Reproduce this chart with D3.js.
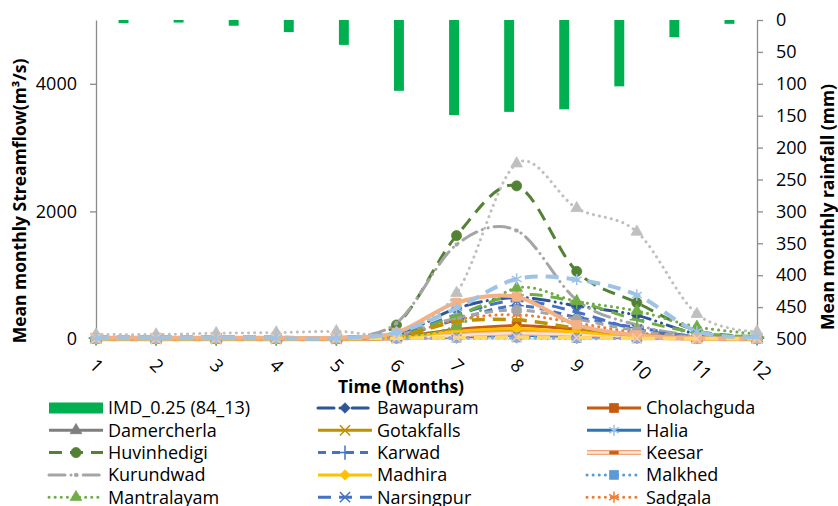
<!DOCTYPE html>
<html>
<head>
<meta charset="utf-8">
<script src="https://cdn.jsdelivr.net/npm/d3@7"></script>
<style>
  html, body { margin: 0; padding: 0; background: #fff; }
  svg { display: block; font-family: "Open Sans", "DejaVu Sans", sans-serif; }
</style>
</head>
<body>
<svg id="chart" width="838" height="506"></svg>
<script>
// ---- data -------------------------------------------------------------
const months = [1, 2, 3, 4, 5, 6, 7, 8, 9, 10, 11, 12];
const rainfallLabel = "IMD_0.25 (84_13)";
const rainfall = [5, 4, 9, 19, 39, 111, 149, 144, 140, 104, 27, 6];   // mm

// mean monthly streamflow, m3/s
const bawapuram   = [15, 12, 10, 10, 10, 60, 480, 650, 520, 370, 80, 20];
const cholachguda = [10, 8, 6, 6, 6, 30, 150, 210, 150, 70, 20, 10];
const damercherla = [5, 5, 5, 5, 5, 20, 60, 90, 70, 40, 15, 8];
const gotakfalls  = [5, 3, 2, 2, 2, 20, 110, 140, 100, 40, 10, 5];
const halia       = [10, 8, 6, 5, 5, 10, 30, 60, 40, 20, 10, 5];
const huvinhedigi = [30, 30, 30, 30, 30, 220, 1620, 2400, 1060, 570, 130, 40];
const karwad      = [10, 8, 6, 6, 6, 50, 300, 520, 340, 180, 40, 10];
const keesar      = [5, 5, 5, 5, 5, 15, 60, 90, 70, 40, 10, 5];
const kurundwad   = [20, 20, 20, 20, 20, 250, 1480, 1700, 610, 220, 50, 20];
const madhira     = [5, 5, 5, 5, 5, 20, 120, 160, 110, 50, 10, 5];
const malkhed     = [5, 5, 5, 5, 5, 10, 20, 25, 15, 10, 5, 5];
const mantralayam = [20, 20, 20, 20, 20, 40, 200, 800, 590, 440, 190, 80];
const narsingpur  = [10, 10, 10, 10, 10, 60, 380, 600, 420, 150, 40, 10];
const sadgala     = [5, 5, 5, 5, 5, 40, 300, 380, 250, 100, 30, 10];
const sarati      = [10, 10, 10, 10, 10, 60, 330, 454, 310, 130, 30, 10];
const takli       = [20, 20, 20, 20, 20, 40, 370, 690, 580, 300, 100, 30];
const tekra       = [5, 5, 5, 5, 5, 30, 270, 300, 170, 60, 15, 5];
const ujjani      = [5, 5, 5, 5, 5, 5, 10, 15, 5, 5, 5, 5];
const vadakkupattu= [20, 20, 20, 20, 20, 100, 570, 660, 220, 60, 15, 10];
const wadenapally = [70, 70, 90, 100, 120, 100, 720, 2750, 2050, 1680, 390, 115];
const yadgir      = [5, 5, 5, 5, 5, 10, 20, 30, 20, 10, 5, 5];
const yadur       = [10, 10, 10, 10, 10, 100, 480, 940, 930, 690, 120, 30];

const rightTicks = [0, 50, 100, 150, 200, 250, 300, 350, 400, 450, 500];
const leftTicks = [0, 2000, 4000];

// ---- series appearance ------------------------------------------------
const DOT = "0.1,6", LDASH = "13,8", DASH = "8,6", LDASHDOTDOT = "16,6,0.1,6,0.1,6";
const series = [
  { name: "Bawapuram",   values: bawapuram,   color: "#2F5597", w: 3,   dash: LDASHDOTDOT, cap: "round", marker: "diamond", mfill: "#2F5597" },
  { name: "Cholachguda", values: cholachguda, color: "#C55A11", w: 3,   dash: null,  marker: "square",  mfill: "#C55A11" },
  { name: "Damercherla", values: damercherla, color: "#7F7F7F", w: 3,   dash: null,  marker: "triangle", mfill: "#7F7F7F" },
  { name: "Gotakfalls",  values: gotakfalls,  color: "#BF9000", w: 3,   dash: null,  marker: "x",       mfill: "#BF9000" },
  { name: "Halia",       values: halia,       color: "#2E75B6", w: 3,   dash: null,  marker: "star",    mfill: "#9DC3E6" },
  { name: "Huvinhedigi", values: huvinhedigi, color: "#548235", w: 3,   dash: LDASH, marker: "circle",  mfill: "#548235" },
  { name: "Karwad",      values: karwad,      color: "#4472C4", w: 3,   dash: DASH,  marker: "plus",    mfill: "#4472C4" },
  { name: "Keesar",      values: keesar,      color: "#F4B183", w: 4,   dash: null,  marker: "dash",    mfill: "#C55A11", double: true },
  { name: "Kurundwad",   values: kurundwad,   color: "#A5A5A5", w: 3,   dash: LDASHDOTDOT, cap: "round", marker: "dot", mfill: "#A5A5A5" },
  { name: "Madhira",     values: madhira,     color: "#FFC000", w: 3,   dash: null,  marker: "diamond", mfill: "#FFC000" },
  { name: "Malkhed",     values: malkhed,     color: "#5B9BD5", w: 3,   dash: DOT, cap: "round", marker: "square", mfill: "#5B9BD5" },
  { name: "Mantralayam", values: mantralayam, color: "#70AD47", w: 3,   dash: DOT, cap: "round", marker: "triangle", mfill: "#70AD47" },
  { name: "Narsingpur",  values: narsingpur,  color: "#4472C4", w: 3,   dash: LDASH, marker: "x",       mfill: "#4472C4" },
  { name: "Sadgala",     values: sadgala,     color: "#ED7D31", w: 3,   dash: DOT, cap: "round", marker: "star", mfill: "#ED7D31" },
  { name: "Sarati",      values: sarati,      color: "#A5A5A5", w: 3,   dash: DASH,  marker: "circle",  mfill: "#A5A5A5" },
  { name: "Takli",       values: takli,       color: "#70AD47", w: 3,   dash: LDASH, marker: "plus",    mfill: "#70AD47" },
  { name: "Tekra",       values: tekra,       color: "#BF9000", w: 3.5, dash: LDASH, marker: "dash",    mfill: "#BF9000" },
  { name: "Ujjani",      values: ujjani,      color: "#8FAADC", w: 3,   dash: DOT, cap: "round", marker: "diamond", mfill: "#8FAADC" },
  { name: "Vadakkupattu",values: vadakkupattu,color: "#F4B183", w: 4,   dash: null,  marker: "square",  mfill: "#F4B183" },
  { name: "Wadenapally", values: wadenapally, color: "#BFBFBF", w: 3,   dash: DOT, cap: "round", marker: "triangle", mfill: "#BFBFBF" },
  { name: "Yadgir",      values: yadgir,      color: "#FFD966", w: 3.5, dash: LDASH, marker: "x",       mfill: "#F8CBAD" },
  { name: "Yadur",       values: yadur,       color: "#9DC3E6", w: 4,   dash: LDASH, marker: "star",    mfill: "#9DC3E6" }
];

// ---- layout -----------------------------------------------------------
const svg = d3.select("#chart");
const plot = { left: 96, right: 757, top: 20, bottom: 339 };
const axisColor = "#8C8C8C";

const x = d3.scalePoint().domain(months).range([plot.left, plot.right]);
const xBar = d3.scaleBand().domain(months).range([plot.left, plot.right])
  .paddingInner(0.82).paddingOuter(0.41);
const yFlow = d3.scaleLinear().domain([0, 5000]).range([plot.bottom, plot.top]);
const yRain = d3.scaleLinear().domain([0, 500]).range([plot.top, plot.bottom]);

// marker shapes
const dashSymbol = { draw(ctx, size) { const w = Math.sqrt(size) * 1.2, h = w * 0.3; ctx.rect(-w / 2, -h / 2, w, h); } };
const dotSymbol = { draw(ctx, size) { const r = Math.sqrt(size) / 2; ctx.rect(-r, -r, 2 * r, 2 * r); } };
const markerDefs = {
  diamond:  { type: d3.symbolDiamond2, size: 70, filled: true },
  square:   { type: d3.symbolSquare,   size: 80, filled: true },
  triangle: { type: d3.symbolTriangle, size: 60, filled: true },
  circle:   { type: d3.symbolCircle,   size: 80, filled: true },
  x:        { type: d3.symbolX,        size: 70, filled: false },
  star:     { type: d3.symbolAsterisk, size: 90, filled: false },
  plus:     { type: d3.symbolPlus,     size: 70, filled: false },
  dash:     { type: dashSymbol,        size: 50, filled: true },
  dot:      { type: dotSymbol,         size: 9,  filled: true }
};
function drawMarker(sel, s) {
  const m = markerDefs[s.marker];
  sel.attr("d", d3.symbol().type(m.type).size(m.size))
    .attr("fill", m.filled ? s.mfill : "none")
    .attr("stroke", s.mfill)
    .attr("stroke-width", m.filled ? 0.75 : 1.5);
}
function styleLine(sel, s) {
  sel.attr("fill", "none")
    .attr("stroke", s.color)
    .attr("stroke-width", s.w)
    .attr("stroke-linecap", s.cap || "butt")
    .attr("stroke-linejoin", "round")
    .attr("stroke-dasharray", s.dash);
}

// ---- rainfall bars (secondary axis, hanging from the top) --------------
svg.append("g").selectAll("rect")
  .data(months.map((m, i) => ({ m, v: rainfall[i] })))
  .join("rect")
  .attr("x", d => xBar(d.m))
  .attr("width", xBar.bandwidth())
  .attr("y", yRain(0))
  .attr("height", d => yRain(d.v) - yRain(0))
  .attr("fill", "#00B050");

// ---- axes -------------------------------------------------------------
const gL = svg.append("g").attr("transform", `translate(${plot.left},0)`)
  .call(d3.axisLeft(yFlow).tickValues(leftTicks).tickFormat(d3.format("d"))
    .tickSize(6).tickSizeOuter(0).tickPadding(13));
const gR = svg.append("g").attr("transform", `translate(${plot.right},0)`)
  .call(d3.axisRight(yRain).tickValues(rightTicks).tickFormat(d3.format("d"))
    .tickSize(6).tickSizeOuter(0).tickPadding(13));
[gL, gR].forEach(g => {
  g.select(".domain").attr("stroke", axisColor).attr("stroke-width", 1.3);
  g.selectAll(".tick line").attr("stroke", axisColor).attr("stroke-width", 1.3);
  g.selectAll(".tick text").attr("fill", "#000").style("font-size", "18px")
    .style("font-family", "'Open Sans', sans-serif");
});

// category axis
svg.append("line")
  .attr("x1", plot.left).attr("x2", plot.right)
  .attr("y1", yFlow(0)).attr("y2", yFlow(0))
  .attr("stroke", "#BFBFBF").attr("stroke-width", 1);
svg.append("g").selectAll("text")
  .data(months)
  .join("text")
  .attr("transform", d => `translate(${x(d) - 3},${yFlow(0) + 23}) rotate(45)`)
  .attr("dy", "0.35em")
  .attr("font-size", 18)
  .attr("fill", "#000")
  .text(d => d);

// ---- streamflow lines -------------------------------------------------
const line = d3.line()
  .x((d, i) => x(months[i]))
  .y(d => yFlow(d))
  .curve(d3.curveCatmullRom.alpha(0));

const gSeries = svg.append("g");
series.forEach(s => {
  const g = gSeries.append("g");
  if (s.double) {
    g.append("path").datum(s.values).attr("d", line).call(styleLine, Object.assign({}, s, { color: "#F1A37A", w: s.w + 1 }));
    g.append("path").datum(s.values).attr("d", line).call(styleLine, Object.assign({}, s, { color: "#FBE3D5", w: s.w - 1.5 }));
  } else {
    g.append("path").datum(s.values).attr("d", line).call(styleLine, s);
  }
  g.selectAll("path.mk")
    .data(s.values)
    .join("path")
    .attr("class", "mk")
    .attr("transform", (d, i) => `translate(${x(months[i])},${yFlow(d)})`)
    .call(drawMarker, s);
});

// ---- axis titles ------------------------------------------------------
svg.append("text")
  .attr("transform", `translate(26,201) rotate(-90)`)
  .attr("text-anchor", "middle")
  .attr("font-size", 17.5).attr("font-weight", "bold")
  .text("Mean monthly Streamflow(m³/s)");
svg.append("text")
  .attr("transform", `translate(834,207) rotate(-90)`)
  .attr("text-anchor", "middle")
  .attr("font-size", 17.5).attr("font-weight", "bold")
  .text("Mean monthly rainfall (mm)");
svg.append("text")
  .attr("x", 401).attr("y", 393)
  .attr("text-anchor", "middle")
  .attr("font-size", 17.5).attr("font-weight", "bold")
  .text("Time (Months)");

// ---- legend -----------------------------------------------------------
const legendItems = [{ name: rainfallLabel, bar: true }].concat(series);
const colX = [49, 318, 587], symW = 54, rowY0 = 408, rowH = 22.3;
const legend = svg.append("g");
legendItems.forEach((item, k) => {
  const col = k % 3, row = Math.floor(k / 3);
  const gx = colX[col], gy = rowY0 + row * rowH;
  const g = legend.append("g").attr("transform", `translate(${gx},${gy})`);
  if (item.bar) {
    g.append("rect").attr("x", 0).attr("y", -5.5).attr("width", symW).attr("height", 11).attr("fill", "#00B050");
  } else {
    const seg = [[0, 0], [symW, 0]];
    const lg = d3.line();
    if (item.double) {
      g.append("path").attr("d", lg(seg)).call(styleLine, Object.assign({}, item, { color: "#F1A37A", w: item.w + 1 }));
      g.append("path").attr("d", lg(seg)).call(styleLine, Object.assign({}, item, { color: "#FBE3D5", w: item.w - 1.5 }));
    } else {
      g.append("path").attr("d", lg(seg)).call(styleLine, item);
    }
    g.append("path").attr("transform", `translate(${symW / 2},0)`).call(drawMarker, item);
  }
  g.append("text")
    .attr("x", symW + 5).attr("y", 0).attr("dy", "0.35em")
    .attr("font-size", 18).attr("fill", "#000")
    .text(item.name);
});
</script>
</body>
</html>
